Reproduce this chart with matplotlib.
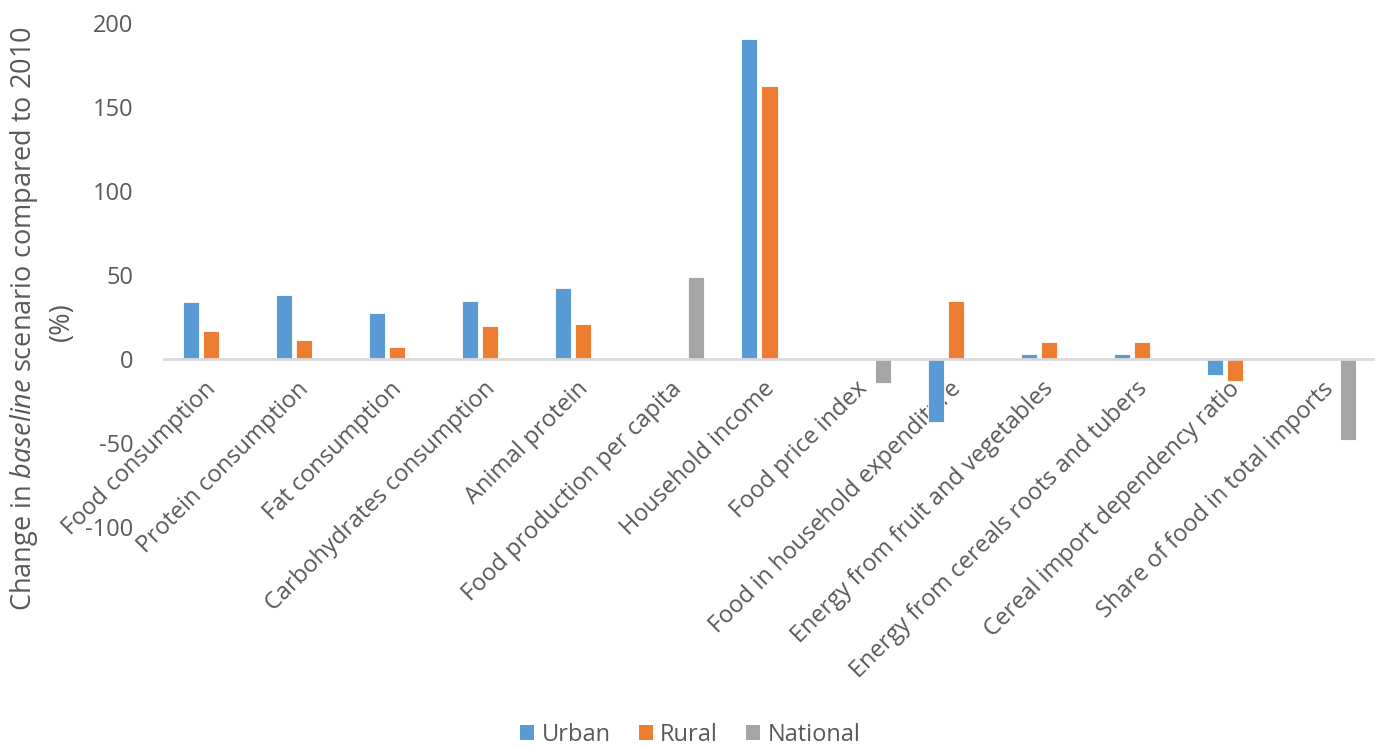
import matplotlib
matplotlib.use("Agg")
import matplotlib.pyplot as plt
import matplotlib.transforms as mtransforms
import numpy as np
from matplotlib.patches import Patch

categories = [
    "Food consumption", "Protein consumption", "Fat consumption",
    "Carbohydrates consumption", "Animal protein", "Food production per capita",
    "Household income", "Food price index", "Food in household expenditure",
    "Energy from fruit and vegetables", "Energy from cereals roots and tubers",
    "Cereal import dependency ratio", "Share of food in total imports",
]
nan = np.nan
urban = [33.7, 38.1, 27.2, 34.5, 42.4, nan, 190.3, nan, -37.7, 3.0, 3.0, -9.5, nan]
rural = [16.7, 11.3, 7.0, 19.6, 20.6, nan, 162.3, nan, 34.5, 10.1, 10.1, -13.0, nan]
national = [nan, nan, nan, nan, nan, 48.6, nan, -14.5, nan, nan, nan, nan, -48.2]
series_names = ["Urban", "Rural", "National"]
colors = ["#5B9BD5", "#ED7D31", "#A5A5A5"]
yticks = [-100, -50, 0, 50, 100, 150, 200]

TEXT = "#595959"
plt.rcParams["font.family"] = ["Open Sans", "DejaVu Sans"]
plt.rcParams["mathtext.fontset"] = "custom"
plt.rcParams["mathtext.rm"] = "Open Sans"
plt.rcParams["mathtext.it"] = "Open Sans:italic"

fig = plt.figure(figsize=(13.75, 7.48), dpi=100)
ax = fig.add_axes([164 / 1375, 1 - 527 / 748, 1 - 164 / 1375, (527 - 23) / 748])

x = np.arange(len(categories))
width = 0.172
offsets = [-0.215, 0.0, 0.215]
for vals, off, col in zip([urban, rural, national], offsets, colors):
    ax.bar(x + off, vals, width, color=col, edgecolor="white", linewidth=0.6, zorder=2)

ax.set_xlim(-0.5, len(categories) - 0.5)
ax.set_ylim(-100, 200)
ax.set_yticks(yticks)
ax.set_yticklabels([str(v) for v in yticks])

for s in ["top", "right", "left"]:
    ax.spines[s].set_visible(False)
ax.spines["bottom"].set_position(("data", 0))
ax.spines["bottom"].set_color("#D9D9D9")
ax.spines["bottom"].set_linewidth(2.0)
ax.spines["bottom"].set_zorder(3)

ax.set_xticks(x)
ax.set_xticklabels(categories, rotation=45, ha="right", va="top",
                   rotation_mode="anchor")
ax.tick_params(axis="x", length=0, pad=13, labelsize=17, labelcolor=TEXT)
ax.tick_params(axis="y", length=0, pad=22, labelsize=17, labelcolor=TEXT)
shift = mtransforms.ScaledTranslation(-7 / 100, 0, fig.dpi_scale_trans)
for lbl in ax.get_xticklabels():
    lbl.set_transform(lbl.get_transform() + shift)

# y-axis title, two lines placed separately
fig.text(24 / 1375, 1 - 319 / 748,
         "Change in $\\mathit{baseline}$ scenario compared to 2010",
         rotation=90, ha="center", va="center", fontsize=19.5, color=TEXT)
fig.text(62 / 1375, 1 - 322 / 748, "(%)",
         rotation=90, ha="center", va="center", fontsize=19.5, color=TEXT)

handles = [Patch(facecolor=c, edgecolor="none") for c in colors]
fig.legend(handles, series_names, loc="center", bbox_to_anchor=(0.502, 1 - 735 / 748),
           ncol=3, frameon=False, fontsize=17, labelcolor=TEXT,
           handlelength=0.6, handleheight=0.6, handletextpad=0.3, columnspacing=1.2)

fig.savefig("out.png", dpi=100)
